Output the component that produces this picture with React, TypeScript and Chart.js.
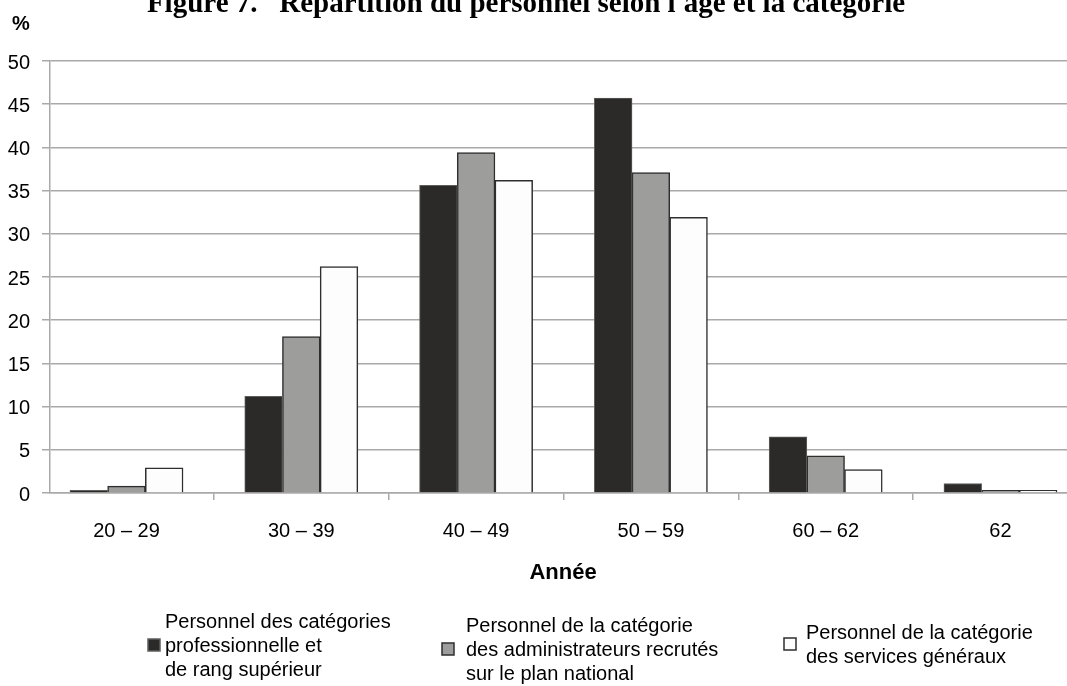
import React, { useEffect, useRef } from "react";
import { Chart, registerables } from "chart.js";

Chart.register(...registerables);

// Age bands on the horizontal axis
const ageGroups = ["20 – 29", "30 – 39", "40 – 49", "50 – 59", "60 – 62", "62"];

// Share of staff (%) in each age band, by category
const professionalStaff = [0.3, 11.2, 35.6, 45.7, 6.5, 1.1];
const nationalOfficers = [0.8, 18.1, 39.4, 37.1, 4.3, 0.3];
const generalService = [2.9, 26.2, 36.2, 31.9, 2.7, 0.3];

// Legend text, one entry per line
const professionalLabel = ["Personnel des catégories", "professionnelle et", "de rang supérieur"];
const nationalLabel = ["Personnel de la catégorie", "des administrateurs recrutés", "sur le plan national"];
const generalLabel = ["Personnel de la catégorie", "des services généraux"];

const chartTitle = "Figure 7.   Répartition du personnel selon l'âge et la catégorie";
const xAxisTitle = "Année";
const yAxisUnit = "%";

const SANS = '"Liberation Sans", Arial, sans-serif';
const SERIF = '"Liberation Serif", "Times New Roman", serif';
const GRID = "#a9a9a9";

type LegendSlot = { boxX: number; textX: number; centerY: number };
const legendSlots: LegendSlot[] = [
  { boxX: 148, textX: 165, centerY: 645 },
  { boxX: 442, textX: 466, centerY: 649 },
  { boxX: 784, textX: 806, centerY: 644 },
];

const figureText = {
  id: "figureText",
  afterDraw(chart: any) {
    const { ctx } = chart;
    ctx.save();
    ctx.fillStyle = "#000";
    ctx.textBaseline = "alphabetic";

    // Figure title (runs off the top edge)
    ctx.font = `bold 29px ${SERIF}`;
    ctx.textAlign = "center";
    ctx.fillText(chartTitle, 526, 12);

    // Unit above the value axis
    ctx.font = `bold 20px ${SANS}`;
    ctx.textAlign = "left";
    ctx.fillText(yAxisUnit, 12, 30);

    // Horizontal axis title
    ctx.font = `bold 22px ${SANS}`;
    ctx.textAlign = "center";
    ctx.fillText(xAxisTitle, 563, 579);

    // Legend: square swatch beside multi-line text
    ctx.font = `20px ${SANS}`;
    ctx.textAlign = "left";
    const lineH = 24;
    chart.data.datasets.forEach((ds: any, i: number) => {
      const slot = legendSlots[i];
      const lines: string[] = ds.legendLines;
      const box = 12;
      ctx.fillStyle = ds.backgroundColor;
      ctx.fillRect(slot.boxX, slot.centerY - box / 2, box, box);
      ctx.strokeStyle = ds.borderColor;
      ctx.lineWidth = 1.5;
      ctx.strokeRect(slot.boxX, slot.centerY - box / 2, box, box);
      ctx.fillStyle = "#000";
      const firstY = slot.centerY - ((lines.length - 1) * lineH) / 2;
      lines.forEach((t, k) => ctx.fillText(t, slot.textX, firstY + k * lineH + 7));
    });
    ctx.restore();
  },
};

export default function App() {
  const canvasRef = useRef<HTMLCanvasElement | null>(null);

  useEffect(() => {
    const canvas = canvasRef.current;
    if (!canvas) return;
    const toPoints = (vals: number[]) => vals.map((v, i) => ({ x: i, y: v }));
    const chart = new Chart(canvas, {
      type: "bar",
      data: {
        datasets: [
          {
            label: professionalLabel.join(" "),
            legendLines: professionalLabel,
            data: toPoints(professionalStaff),
            backgroundColor: "#2b2a28",
            borderColor: "#5e5e5c",
            borderWidth: 1,
          } as any,
          {
            label: nationalLabel.join(" "),
            legendLines: nationalLabel,
            data: toPoints(nationalOfficers),
            backgroundColor: "#9d9e9c",
            borderColor: "#2e2e2e",
            borderWidth: 1.5,
          } as any,
          {
            label: generalLabel.join(" "),
            legendLines: generalLabel,
            data: toPoints(generalService),
            backgroundColor: "#fdfdfd",
            borderColor: "#2e2e2e",
            borderWidth: 1.5,
          } as any,
        ],
      },
      options: {
        responsive: false,
        animation: false,
        events: [],
        barThickness: 37.7,
        layout: { padding: { top: 61, left: 0, right: 0, bottom: 143 } },
        plugins: { legend: { display: false }, title: { display: false }, tooltip: { enabled: false } },
        scales: {
          x: {
            type: "linear",
            min: -0.4376,
            max: 5.3805,
            offset: false,
            afterBuildTicks: (scale: any) => {
              scale.ticks = ageGroups.map((_, i) => ({ value: i }));
            },
            afterFit: (scale: any) => {
              scale.height = 50;
            },
            ticks: {
              autoSkip: false,
              maxRotation: 0,
              padding: 19,
              color: "#000",
              font: { family: SANS, size: 20 },
              callback: (v: any) => ageGroups[v] ?? "",
            },
            grid: { offset: true, drawOnChartArea: false, drawTicks: true, tickLength: 7, color: GRID, lineWidth: 1.5 },
            border: { display: true, color: GRID, width: 1.5 },
          },
          y: {
            min: 0,
            max: 50,
            afterFit: (scale: any) => {
              scale.width = 50;
            },
            ticks: {
              stepSize: 5,
              padding: 12,
              labelOffset: 2,
              color: "#000",
              font: { family: SANS, size: 20 },
            },
            grid: { color: GRID, lineWidth: 1.5, tickLength: 8, drawTicks: true },
            border: { display: true, color: GRID, width: 1.5 },
          },
        },
      } as any,
      plugins: [figureText],
    });
    return () => chart.destroy();
  }, []);

  return (
    <div style={{ position: "fixed", left: 0, top: 0, width: 1067, height: 686, background: "#fff" }}>
      <canvas ref={canvasRef} width={1067} height={686} style={{ display: "block" }} />
    </div>
  );
}
